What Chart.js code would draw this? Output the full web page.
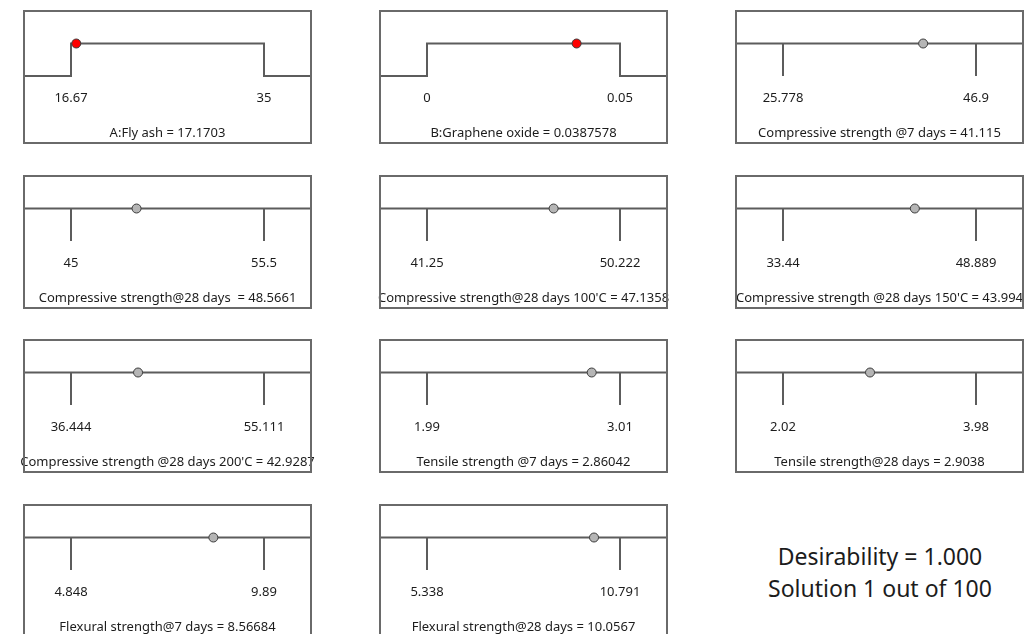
<!DOCTYPE html>
<html>
<head>
<meta charset="utf-8">
<script src="https://cdn.jsdelivr.net/npm/chart.js@4/dist/chart.umd.min.js"></script>
<style>
  html, body { margin: 0; padding: 0; background: #fff; overflow: hidden; }
  #wrap { position: relative; width: 1034px; height: 634px; overflow: hidden; }
  #wrap canvas { position: absolute; }
  .summary {
    position: absolute; left: 730px; width: 300px; text-align: center;
    font-family: "Noto Sans", "Open Sans", sans-serif; font-size: 23px; color: #1c1c1c;
    line-height: 32px;
  }
</style>
</head>
<body>
<div id="wrap">
  <div class="summary" style="top:540px;">Desirability = 1.000<br>Solution 1 out of 100</div>
</div>
<script>
// ramp data, one entry per panel
const names = [
  'A:Fly ash',
  'B:Graphene oxide',
  'Compressive strength @7 days',
  'Compressive strength@28 days ',
  "Compressive strength@28 days 100'C",
  "Compressive strength @28 days 150'C",
  "Compressive strength @28 days 200'C",
  'Tensile strength @7 days',
  'Tensile strength@28 days',
  'Flexural strength@7 days',
  'Flexural strength@28 days'
];
const kinds = ['factor', 'factor', 'response', 'response', 'response', 'response',
               'response', 'response', 'response', 'response', 'response'];
const lows = [16.67, 0, 25.778, 45, 41.25, 33.44, 36.444, 1.99, 2.02, 4.848, 5.338];
const highs = [35, 0.05, 46.9, 55.5, 50.222, 48.889, 55.111, 3.01, 3.98, 9.89, 10.791];
const solution = [17.1703, 0.0387578, 41.115, 48.5661, 47.1358, 43.994, 42.9287, 2.86042, 2.9038, 8.56684, 10.0567];

const LINE = '#5c5c5c';
const FONT = '"Noto Sans", "Open Sans", sans-serif';

// box + tick labels + bottom caption
const rampDecor = {
  id: 'rampDecor',
  afterDraw(chart) {
    const { ctx, chartArea: a, scales } = chart;
    const i = chart.options.plugins.rampDecor.index;
    ctx.save();
    ctx.fillStyle = '#1c1c1c';
    ctx.font = '13px ' + FONT;
    ctx.textAlign = 'center';
    ctx.textBaseline = 'middle';
    ctx.fillText(String(lows[i]), scales.x.getPixelForValue(lows[i]), a.top + 87);
    ctx.fillText(String(highs[i]), scales.x.getPixelForValue(highs[i]), a.top + 87);
    ctx.fillText(names[i] + ' = ' + String(solution[i]), (a.left + a.right) / 2, a.top + 122);

    ctx.strokeStyle = '#6a6a6a';
    ctx.lineWidth = 2;
    ctx.strokeRect(a.left, a.top, a.right - a.left, a.bottom - a.top);
    ctx.restore();
  }
};

function makePanel(i) {
  const col = i % 3, row = Math.floor(i / 3);
  const boxLeft = 24 + col * 356;
  const boxTop = 11 + Math.round(row * 164.6);
  const padX = 30, padTop = 8, padBottom = 10;

  const canvas = document.createElement('canvas');
  canvas.width = 287 + padX * 2;
  canvas.height = 132 + padTop + padBottom;
  canvas.style.left = (boxLeft - padX) + 'px';
  canvas.style.top = (boxTop - padTop) + 'px';
  document.getElementById('wrap').appendChild(canvas);

  const lo = lows[i], hi = highs[i];
  const pad = (hi - lo) * 47 / 193;
  const xMin = lo - pad, xMax = hi + pad;
  const isFactor = kinds[i] === 'factor';

  const lineStyle = { type: 'line', borderColor: LINE, borderWidth: 2, pointRadius: 0, tension: 0, clip: false, order: 1 };
  const datasets = [{
    type: 'scatter',
    data: [{ x: solution[i], y: 1 }],
    pointRadius: 4.5,
    pointBackgroundColor: isFactor ? '#ff0000' : '#b5b5b5',
    pointBorderColor: '#3c3c3c',
    pointBorderWidth: 1,
    clip: false,
    order: 0
  }];

  if (isFactor) {
    datasets.push({ ...lineStyle, data: [
      { x: xMin, y: 0 }, { x: lo, y: 0 }, { x: lo, y: 1 },
      { x: hi, y: 1 }, { x: hi, y: 0 }, { x: xMax, y: 0 }
    ] });
  } else {
    datasets.push({ ...lineStyle, data: [{ x: xMin, y: 1 }, { x: xMax, y: 1 }] });
    datasets.push({ ...lineStyle, data: [{ x: lo, y: 1 }, { x: lo, y: 0 }] });
    datasets.push({ ...lineStyle, data: [{ x: hi, y: 1 }, { x: hi, y: 0 }] });
  }

  new Chart(canvas, {
    data: { datasets: datasets },
    options: {
      responsive: false,
      animation: false,
      devicePixelRatio: 1,
      layout: { padding: { left: padX, right: padX, top: padTop, bottom: padBottom } },
      scales: {
        x: { type: 'linear', min: xMin, max: xMax, display: false },
        y: { type: 'linear', min: -2.06, max: 2, display: false }
      },
      plugins: {
        legend: { display: false },
        tooltip: { enabled: false },
        rampDecor: { index: i }
      }
    },
    plugins: [rampDecor]
  });
}

names.forEach((n, i) => makePanel(i));
</script>
</body>
</html>
